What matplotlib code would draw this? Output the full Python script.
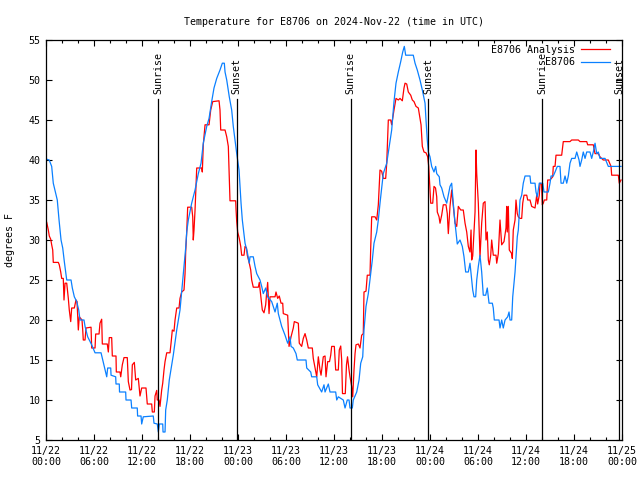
import matplotlib
matplotlib.use('Agg')
import matplotlib.pyplot as plt
import matplotlib.dates as mdates
import numpy as np
import pandas as pd

# hours since 2024-11-22 00:00 UTC, temperature in deg F
obs_h = [0.09, 0.4, 0.71, 0.91, 1.41, 1.63, 1.88, 2.09, 2.29, 2.59, 3.13, 3.29, 3.54, 3.84, 4.09, 4.25,
         4.75, 4.88, 5.21, 5.71, 6.13, 6.88, 7.09, 7.29, 7.59, 7.71, 8.09, 8.13, 8.71, 8.75, 9.16, 9.19,
         9.96, 10.0, 10.63, 10.71, 11.41, 11.45, 11.88, 11.96, 12.16, 13.41, 13.5, 13.91, 14.04, 14.16,
         14.59, 14.63, 14.88, 14.96, 15.16, 15.41, 15.91, 16.34, 16.75, 17.16, 17.46, 17.59, 17.79, 18.21,
         18.63, 19.04, 19.38, 19.66, 20.09, 20.38, 20.71, 21.0, 21.34, 21.75, 22.04, 22.29, 22.38, 22.59,
         22.91, 23.21, 23.41, 23.63, 23.84, 24.13, 24.38, 24.54, 24.88, 25.16, 25.41, 25.5, 25.91, 26.13,
         26.34, 26.75, 26.96, 27.16, 27.46, 27.71, 28.21, 28.63, 28.91, 29.04, 29.25, 29.46, 29.88, 30.21,
         30.5, 30.63, 30.91, 31.25, 31.41, 32.5, 32.59, 33.09, 33.21, 33.84, 33.96, 34.46, 34.75, 34.88,
         35.29, 35.5, 36.21, 36.34, 36.54, 37.16, 37.38, 37.66, 37.88, 38.0, 38.29, 38.41, 38.84, 39.13,
         39.34, 39.59, 39.75, 40.0, 40.29, 40.59, 40.79, 41.0, 41.34, 41.54, 41.75, 42.16, 42.59, 42.91,
         43.21, 43.5, 43.75, 44.04, 44.34, 44.59, 44.79, 44.96, 45.91, 46.13, 46.41, 46.75, 47.04, 47.38,
         47.5, 47.66, 47.79, 48.0, 48.21, 48.5, 48.71, 48.84, 49.16, 49.25, 49.46, 49.75, 50.09, 50.5,
         50.71, 50.91, 51.13, 51.41, 51.75, 52.04, 52.25, 52.46, 52.79, 53.0, 53.21, 53.34, 53.5, 53.71,
         53.84, 54.04, 54.25, 54.46, 54.66, 54.96, 55.16, 55.38, 55.79, 55.91, 56.04, 56.63, 56.75, 56.96,
         57.16, 57.38, 57.71, 57.88, 58.0, 58.21, 58.34, 58.5, 58.63, 58.75, 58.91, 59.04, 59.25, 59.46,
         59.66, 59.88, 60.5, 60.59, 61.13, 61.25, 61.41, 61.66, 62.09, 62.25, 62.79, 63.0, 63.13, 63.41,
         63.63, 63.91, 64.25, 64.38, 64.66, 64.88, 65.09, 65.29, 65.5, 65.71, 66.13, 66.34, 66.63, 66.75,
         66.96, 67.16, 67.38, 67.59, 68.0, 68.21, 68.41, 68.63, 68.84, 69.04, 69.25, 69.88, 70.29, 71.88]
obs_t = [40.1, 40.0, 39.2, 37.1, 35.0, 32.5, 30.0, 29.0, 27.3, 25.0, 25.0, 24.0, 22.9, 22.3, 21.25, 20.0,
         20.0, 19.2, 17.9, 16.9, 15.9, 15.9, 15.0, 14.2, 12.9, 14.0, 14.0, 13.1, 12.9, 12.0, 12.0, 11.0,
         11.0, 10.0, 10.0, 9.0, 9.0, 8.0, 8.0, 7.0, 7.9, 8.0, 7.1, 7.0, 6.0, 7.0,
         7.0, 6.0, 6.0, 8.75, 10.0, 12.5, 15.6, 18.75, 21.25, 25.8, 29.0, 31.0, 32.5, 34.6,
         36.25, 38.3, 39.6, 42.1, 44.2, 45.2, 47.3, 49.0, 50.2, 51.25, 52.1, 52.1, 51.0, 50.0,
         47.9, 46.25, 44.2, 42.5, 40.8, 38.75, 34.6, 32.5, 29.6, 28.5, 27.1, 27.9, 27.9, 26.7,
         25.8, 25.0, 24.2, 23.3, 24.0, 22.9, 22.3, 21.0, 22.1, 20.8, 20.0, 19.2, 18.1, 17.1,
         17.9, 16.7, 16.5, 15.8, 15.0, 15.0, 14.0, 13.5, 12.9, 12.9, 11.9, 11.0, 11.9, 11.0,
         12.0, 11.0, 11.0, 10.0, 10.4, 10.0, 9.0, 10.0, 10.0, 9.0, 9.0, 10.0, 11.0, 12.5,
         14.6, 15.4, 18.75, 21.7, 23.3, 25.8, 27.5, 29.6, 31.0, 32.5, 34.6, 38.3, 39.6, 41.7,
         43.75, 47.3, 49.6, 51.0, 52.3, 53.5, 54.2, 53.1, 53.1, 52.1, 51.25, 50.0, 48.75, 47.1,
         45.0, 42.5, 41.0, 40.4, 39.2, 38.5, 39.2, 38.3, 37.9, 36.9, 36.5, 35.4, 34.6, 36.7,
         37.1, 34.6, 32.1, 29.5, 30.0, 29.2, 27.9, 26.0, 26.0, 27.1, 25.0, 23.75, 22.9, 22.9,
         25.0, 26.7, 28.1, 26.0, 23.1, 23.1, 24.0, 22.1, 22.1, 21.5, 20.0, 20.0, 19.0, 20.0,
         19.0, 20.0, 20.4, 21.0, 20.0, 20.0, 22.9, 24.6, 26.0, 27.9, 30.4, 31.25, 35.0, 35.6,
         37.1, 38.0, 38.0, 37.1, 37.1, 36.0, 35.4, 37.1, 37.1, 36.0, 36.0, 37.1, 38.0, 38.0,
         38.5, 39.2, 39.2, 37.1, 37.1, 38.0, 37.1, 38.0, 39.6, 40.2, 40.2, 41.0, 40.0, 39.2,
         40.0, 41.0, 40.2, 41.0, 41.0, 40.2, 41.0, 42.1, 40.8, 41.0, 40.2, 40.2, 39.2, 39.2]

ana_h = [0.09, 0.29, 0.41, 0.59, 0.71, 0.84, 0.91, 1.54, 1.66, 1.84, 1.96, 2.16, 2.25, 2.38, 2.59, 2.79,
         2.91, 3.09, 3.21, 3.54, 3.75, 3.88, 4.04, 4.16, 4.5, 4.59, 4.66, 4.88, 5.0, 5.63, 5.71, 6.13,
         6.21, 6.63, 6.75, 6.96, 7.04, 7.66, 7.79, 7.91, 8.21, 8.29, 8.75, 8.79, 9.25, 9.34, 9.54, 9.75,
         10.16, 10.29, 10.5, 10.69, 10.79, 11.04, 11.21, 11.54, 11.75, 11.96, 12.5, 12.66, 13.21, 13.29,
         13.54, 13.63, 13.84, 13.91, 14.13, 14.25, 14.46, 14.59, 14.75, 14.88, 15.09, 15.5, 15.63, 15.79,
         16.0, 16.13, 16.34, 16.63, 16.75, 16.96, 17.25, 17.38, 17.46, 17.59, 17.71, 18.21, 18.34, 18.41,
         18.5, 18.63, 18.84, 19.46, 19.54, 19.66, 19.88, 20.38, 20.59, 20.84, 21.63, 21.75, 21.84, 22.38,
         22.59, 22.79, 23.0, 23.71, 23.75, 23.84, 23.96, 24.16, 24.34, 24.46, 24.75, 24.88, 25.06, 25.16,
         25.41, 25.59, 25.71, 25.91, 26.54, 26.66, 26.84, 27.04, 27.25, 27.46, 27.59, 27.71, 27.88, 28.0,
         28.63, 28.75, 28.96, 29.16, 29.38, 29.59, 29.66, 30.21, 30.38, 30.63, 30.91, 31.04, 31.54, 31.66,
         31.96, 32.16, 32.38, 32.59, 32.79, 33.29, 33.41, 33.63, 33.84, 34.04, 34.25, 34.38, 34.66, 34.88,
         35.0, 35.21, 35.44, 35.59, 35.71, 36.04, 36.21, 36.54, 36.66, 36.84, 36.96, 37.06, 37.41, 37.56,
         37.69, 37.88, 38.0, 38.21, 38.34, 38.5, 38.63, 38.75, 39.04, 39.25, 39.46, 39.66, 39.75, 40.0,
         40.16, 40.5, 40.59, 40.71, 41.13, 41.34, 41.54, 41.75, 41.96, 42.16, 42.46, 42.59, 42.79, 43.09,
         43.21, 43.5, 43.75, 44.04, 44.25, 44.54, 44.75, 44.88, 45.09, 45.29, 45.59, 45.79, 46.0, 46.25,
         46.54, 46.75, 46.88, 47.04, 47.25, 47.5, 47.71, 47.84, 47.91, 48.09, 48.34, 48.5, 48.69, 48.84,
         48.91, 49.13, 49.25, 49.46, 49.66, 50.0, 50.16, 50.29, 50.5, 50.71, 51.0, 51.13, 51.34, 51.54,
         51.84, 52.16, 52.38, 52.59, 52.79, 53.0, 53.13, 53.21, 53.34, 53.63, 53.75, 53.84, 54.04, 54.25,
         54.46, 54.66, 54.88, 55.0, 55.16, 55.29, 55.41, 55.59, 55.71, 55.79, 55.91, 56.25, 56.34, 56.54,
         56.75, 56.96, 57.25, 57.5, 57.59, 57.66, 57.79, 57.91, 58.21, 58.29, 58.41, 58.63, 58.75, 58.91,
         59.04, 59.25, 59.46, 59.59, 59.75, 60.09, 60.21, 60.5, 60.71, 61.13, 61.34, 61.46, 61.66, 61.75,
         61.94, 62.04, 62.16, 62.29, 62.59, 62.71, 63.0, 63.34, 63.41, 63.63, 63.75, 64.46, 64.66, 65.5,
         65.71, 66.54, 66.75, 67.59, 67.71, 68.41, 68.63, 69.04, 69.25, 69.66, 70.29, 70.63, 70.71, 71.54,
         71.66, 71.88]
ana_t = [32.2, 31.25, 30.5, 30.1, 29.4, 28.75, 27.2, 27.2, 26.9, 26.0, 25.2, 25.2, 22.5, 24.6, 24.6, 22.7,
         21.25, 19.8, 21.5, 21.5, 22.5, 22.3, 18.75, 20.4, 20.0, 18.75, 17.5, 17.5, 19.0, 19.1, 16.5, 16.5,
         18.25, 18.25, 19.6, 20.1, 17.0, 17.0, 16.0, 17.8, 17.8, 15.5, 15.5, 13.5, 13.5, 12.9, 14.4, 15.3,
         15.3, 12.3, 11.25, 11.3, 14.4, 14.7, 12.5, 12.7, 10.5, 11.5, 11.5, 9.5, 9.5, 8.5,
         8.5, 10.5, 11.2, 10.0, 10.0, 9.2, 11.25, 12.1, 13.75, 14.8, 15.9, 15.9, 17.1, 18.75,
         18.6, 20.0, 21.5, 21.5, 22.7, 23.5, 23.75, 25.8, 28.5, 31.0, 34.1, 34.1, 32.9, 30.0,
         31.25, 33.75, 39.0, 39.0, 38.5, 41.9, 44.4, 44.4, 46.25, 47.3, 47.4, 46.25, 43.75, 43.75,
         42.9, 41.7, 34.9, 34.9, 33.9, 32.3, 31.0, 30.2, 29.2, 28.1, 28.1, 29.2, 29.0, 28.1,
         27.1, 26.25, 25.0, 24.1, 24.1, 24.7, 23.1, 21.25, 20.9, 21.9, 23.5, 24.7, 20.8, 22.9,
         22.9, 23.5, 22.7, 23.0, 22.1, 22.1, 20.8, 20.6, 16.7, 17.9, 19.0, 19.8, 19.6, 17.1,
         16.7, 17.7, 18.3, 17.5, 16.5, 16.5, 15.2, 14.0, 12.9, 15.4, 13.75, 13.1, 15.4, 15.5,
         12.9, 14.8, 14.8, 15.6, 16.7, 16.7, 13.75, 13.75, 16.25, 16.75, 15.0, 10.8, 10.8, 14.4,
         15.4, 13.75, 12.9, 11.7, 10.4, 13.75, 15.8, 16.9, 17.0, 16.5, 18.1, 18.3, 23.5, 23.6,
         25.6, 25.6, 29.0, 32.9, 32.9, 32.5, 34.4, 38.75, 38.6, 37.7, 37.7, 39.6, 45.0, 45.0,
         44.4, 46.25, 47.7, 47.5, 47.7, 47.4, 49.0, 49.6, 49.5, 48.5, 48.1, 47.5, 47.3, 46.7,
         46.5, 45.2, 44.4, 41.7, 41.0, 40.9, 40.4, 39.2, 37.9, 34.6, 34.6, 36.7, 36.5, 35.4,
         33.5, 32.9, 32.1, 33.1, 34.4, 34.4, 33.3, 30.8, 34.2, 36.25, 33.3, 32.1, 31.7, 34.2,
         33.75, 33.75, 32.1, 31.0, 29.2, 28.5, 31.25, 27.5, 28.0, 33.5, 41.25, 38.3, 34.6, 27.9,
         32.1, 34.6, 34.8, 30.0, 31.0, 27.5, 26.9, 28.1, 30.0, 29.2, 28.1, 28.1, 27.1, 28.3,
         32.5, 29.4, 29.8, 31.5, 34.2, 31.0, 34.2, 28.75, 28.3, 27.7, 31.25, 32.5, 35.0, 33.3,
         32.9, 32.7, 32.7, 34.6, 35.6, 35.6, 35.0, 35.0, 34.2, 34.0, 35.6, 34.5, 35.6, 37.1,
         37.0, 34.4, 34.6, 35.0, 35.0, 37.5, 37.5, 37.9, 39.2, 39.2, 40.6, 40.6, 42.3, 42.3,
         42.5, 42.5, 42.3, 42.3, 41.9, 41.9, 40.8, 40.8, 40.4, 40.0, 40.0, 39.2, 38.1, 38.1,
         37.1, 37.5]

sun_labels = ['Sunrise', 'Sunset', 'Sunrise', 'Sunset', 'Sunrise', 'Sunset']
sun_h = [14.05, 23.83, 38.08, 47.8, 62.05, 71.67]

start = pd.Timestamp('2024-11-22 00:00')
t_obs = start + pd.to_timedelta(obs_h, unit='h')
t_ana = start + pd.to_timedelta(ana_h, unit='h')
t_sun = start + pd.to_timedelta(sun_h, unit='h')

plt.rcParams['font.family'] = ['DejaVu Sans Mono']
fs = 7.2

fig = plt.figure(figsize=(6.4, 4.8), dpi=100)
ax = fig.add_axes([46/640, 40/480, 576/640, 400/480])

ax.plot(t_ana, ana_t, color='#ff0000', lw=0.9)
ax.plot(t_obs, obs_t, color='#0a80ff', lw=0.9)

for lab, t in zip(sun_labels, t_sun):
    ax.plot([t, t], [5, 47.6], color='black', lw=0.9)
    ax.text(t, 48.3, lab, rotation=90, ha='center', va='bottom', fontsize=fs)

ax.set_xlim(start, start + pd.Timedelta(hours=72))
ax.set_ylim(5, 55)
ax.set_yticks(np.arange(5, 56, 5))
ax.xaxis.set_major_locator(mdates.HourLocator(byhour=[0, 6, 12, 18]))
ax.xaxis.set_minor_locator(mdates.HourLocator(byhour=range(0, 24, 2)))
ax.xaxis.set_major_formatter(mdates.DateFormatter('%m/%d\n%H:%M'))
ax.tick_params(which='both', direction='in', top=True, right=True, labelsize=fs, width=0.8)
ax.tick_params(which='major', length=4.5, pad=4)
ax.tick_params(which='minor', length=2.5)
for s in ax.spines.values():
    s.set_linewidth(0.9)

ax.set_title('Temperature for E8706 on 2024-Nov-22 (time in UTC)', fontsize=fs, pad=11)
ax.set_ylabel('degrees F', fontsize=fs, labelpad=10)

# gnuplot style key, top right
ax.text(0.918, 0.976, 'E8706 Analysis', transform=ax.transAxes, ha='right', va='center', fontsize=fs)
ax.plot([0.929, 0.979], [0.977, 0.977], transform=ax.transAxes, color='#ff0000', lw=0.9)
ax.text(0.918, 0.944, 'E8706', transform=ax.transAxes, ha='right', va='center', fontsize=fs)
ax.plot([0.929, 0.979], [0.945, 0.945], transform=ax.transAxes, color='#0a80ff', lw=0.9)

fig.savefig('out.png', dpi=100)
